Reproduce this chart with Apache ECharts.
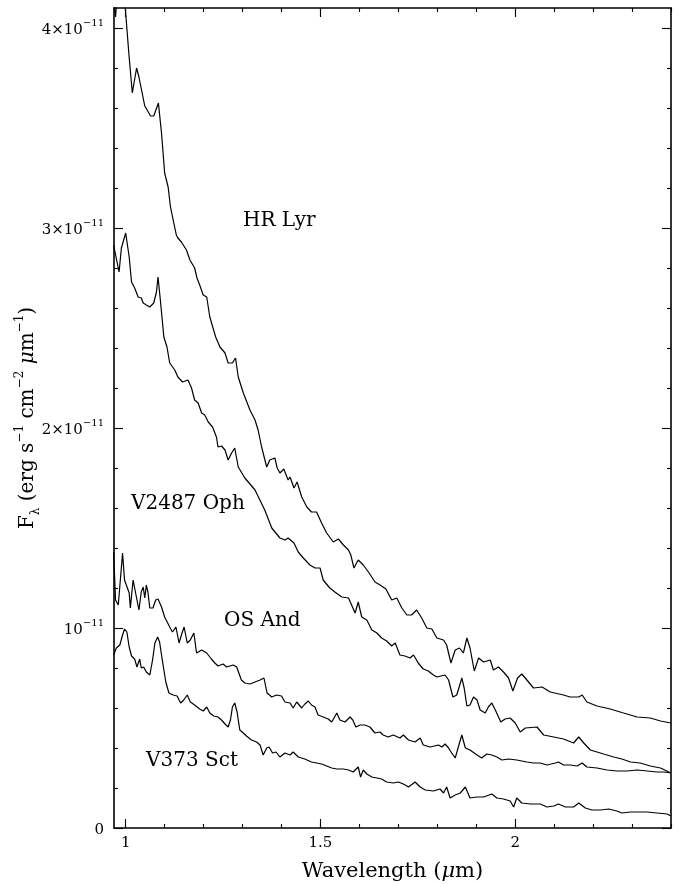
<!DOCTYPE html>
<html><head><meta charset="utf-8">
<script src="https://cdn.jsdelivr.net/npm/echarts@6/dist/echarts.min.js"></script>
<style>html,body{margin:0;padding:0;background:#fff}#c{width:690px;height:884px}</style>
</head><body><div id="c"></div>
<script>
// Wavelength (micron) and flux (units of 1e-11 erg s^-1 cm^-2 micron^-1)
const hrLyrLam = [0.970,0.974,0.979,0.990,0.999,1.008,1.017,1.028,1.034,1.039,1.049,1.053,1.064,1.072,1.084,1.092,1.100,1.109,1.115,1.120,1.130,1.134,1.143,1.147,1.156,1.165,1.177,1.183,1.190,1.199,1.208,1.216,1.231,1.242,1.255,1.263,1.274,1.282,1.289,1.302,1.319,1.332,1.340,1.349,1.362,1.370,1.383,1.389,1.396,1.406,1.417,1.422,1.432,1.440,1.452,1.465,1.477,1.490,1.503,1.516,1.533,1.546,1.559,1.572,1.578,1.586,1.597,1.610,1.625,1.640,1.653,1.668,1.683,1.696,1.709,1.722,1.734,1.747,1.760,1.773,1.786,1.799,1.816,1.824,1.835,1.846,1.857,1.867,1.876,1.884,1.895,1.906,1.919,1.936,1.944,1.957,1.970,1.983,1.994,2.006,2.017,2.030,2.047,2.069,2.090,2.124,2.141,2.163,2.172,2.184,2.210,2.244,2.278,2.313,2.347,2.373,2.400];
const hrLyrFlux = [4.12,4.055,4.19,4.24,4.10,3.875,3.675,3.80,3.755,3.755,3.61,3.615,3.56,3.56,3.625,3.475,3.275,3.205,3.105,3.10,2.965,2.95,2.93,2.925,2.89,2.84,2.80,2.75,2.715,2.665,2.655,2.555,2.455,2.405,2.375,2.325,2.325,2.35,2.255,2.175,2.09,2.04,1.99,1.905,1.805,1.84,1.85,1.80,1.775,1.795,1.74,1.755,1.70,1.73,1.655,1.605,1.58,1.58,1.525,1.475,1.43,1.445,1.415,1.39,1.365,1.30,1.34,1.315,1.275,1.23,1.215,1.195,1.14,1.15,1.10,1.065,1.065,1.09,1.05,1.00,0.995,0.95,0.94,0.915,0.825,0.89,0.90,0.875,0.95,0.90,0.785,0.85,0.83,0.84,0.79,0.805,0.78,0.75,0.685,0.75,0.77,0.74,0.70,0.705,0.68,0.665,0.655,0.655,0.665,0.63,0.61,0.595,0.575,0.555,0.55,0.535,0.525];

const v2487OphLam = [0.969,0.983,0.989,1.000,1.003,1.009,1.015,1.023,1.032,1.040,1.045,1.053,1.062,1.072,1.079,1.083,1.089,1.098,1.106,1.113,1.126,1.134,1.146,1.160,1.169,1.177,1.186,1.195,1.203,1.212,1.223,1.233,1.237,1.246,1.255,1.263,1.272,1.280,1.289,1.306,1.332,1.357,1.375,1.396,1.409,1.417,1.432,1.443,1.456,1.473,1.486,1.499,1.507,1.524,1.537,1.555,1.572,1.580,1.589,1.597,1.606,1.619,1.632,1.645,1.657,1.670,1.683,1.692,1.704,1.717,1.730,1.739,1.751,1.764,1.777,1.790,1.799,1.820,1.829,1.840,1.850,1.863,1.869,1.876,1.884,1.893,1.902,1.910,1.923,1.931,1.940,1.949,1.963,1.974,1.987,2.000,2.013,2.026,2.056,2.073,2.099,2.124,2.150,2.163,2.176,2.193,2.227,2.253,2.274,2.296,2.321,2.347,2.373,2.400];
const v2487OphFlux = [2.915,2.78,2.90,2.975,2.98,2.855,2.73,2.70,2.655,2.65,2.625,2.615,2.605,2.625,2.68,2.755,2.64,2.455,2.405,2.325,2.29,2.255,2.23,2.24,2.20,2.14,2.125,2.075,2.065,2.03,2.005,1.955,1.905,1.91,1.89,1.84,1.875,1.90,1.805,1.75,1.69,1.59,1.50,1.45,1.44,1.45,1.425,1.38,1.35,1.315,1.30,1.30,1.24,1.20,1.18,1.155,1.15,1.115,1.075,1.13,1.055,1.04,0.99,0.975,0.95,0.935,0.91,0.925,0.865,0.86,0.85,0.865,0.825,0.795,0.785,0.765,0.755,0.765,0.74,0.655,0.665,0.75,0.70,0.61,0.615,0.655,0.64,0.59,0.575,0.605,0.625,0.59,0.53,0.545,0.55,0.525,0.48,0.50,0.505,0.465,0.455,0.445,0.425,0.455,0.425,0.39,0.37,0.355,0.345,0.33,0.325,0.31,0.30,0.275];

const osAndLam = [0.969,0.974,0.981,0.992,0.997,1.002,1.009,1.012,1.019,1.023,1.028,1.034,1.040,1.045,1.049,1.053,1.057,1.062,1.070,1.077,1.083,1.092,1.100,1.113,1.120,1.129,1.137,1.143,1.150,1.158,1.166,1.175,1.182,1.195,1.208,1.220,1.229,1.237,1.250,1.259,1.276,1.285,1.297,1.306,1.319,1.332,1.345,1.355,1.363,1.375,1.387,1.400,1.409,1.422,1.430,1.439,1.452,1.460,1.469,1.477,1.486,1.494,1.507,1.520,1.529,1.542,1.550,1.563,1.576,1.583,1.591,1.602,1.614,1.627,1.640,1.653,1.661,1.674,1.687,1.704,1.713,1.726,1.743,1.756,1.764,1.782,1.803,1.812,1.820,1.829,1.837,1.846,1.854,1.863,1.872,1.884,1.902,1.914,1.927,1.940,1.953,1.966,1.983,2.004,2.030,2.047,2.064,2.082,2.103,2.111,2.124,2.141,2.159,2.172,2.184,2.210,2.236,2.261,2.287,2.313,2.339,2.364,2.382,2.400];
const osAndFlux = [1.38,1.14,1.115,1.375,1.24,1.25,1.175,1.10,1.24,1.23,1.15,1.09,1.18,1.205,1.15,1.215,1.18,1.10,1.10,1.14,1.145,1.105,1.055,1.005,0.98,1.005,0.925,0.965,1.005,0.925,0.94,0.975,0.875,0.89,0.875,0.845,0.825,0.81,0.82,0.805,0.815,0.805,0.74,0.725,0.72,0.73,0.74,0.75,0.675,0.655,0.665,0.66,0.63,0.625,0.60,0.63,0.60,0.62,0.635,0.615,0.605,0.565,0.555,0.545,0.53,0.575,0.54,0.53,0.555,0.54,0.505,0.515,0.515,0.505,0.475,0.48,0.465,0.455,0.465,0.45,0.465,0.44,0.43,0.45,0.415,0.405,0.415,0.405,0.42,0.40,0.375,0.35,0.405,0.465,0.40,0.39,0.365,0.35,0.37,0.365,0.355,0.34,0.345,0.34,0.33,0.325,0.325,0.315,0.325,0.33,0.315,0.315,0.31,0.325,0.305,0.30,0.29,0.285,0.285,0.29,0.285,0.28,0.28,0.275];

const v373SctLam = [0.969,0.976,0.985,0.992,0.997,1.003,1.009,1.015,1.023,1.029,1.036,1.040,1.046,1.053,1.062,1.069,1.075,1.082,1.087,1.094,1.103,1.111,1.122,1.132,1.141,1.149,1.158,1.166,1.177,1.190,1.199,1.208,1.216,1.226,1.237,1.246,1.255,1.263,1.269,1.274,1.280,1.286,1.293,1.302,1.310,1.323,1.336,1.345,1.353,1.362,1.368,1.377,1.386,1.396,1.409,1.422,1.430,1.443,1.460,1.477,1.490,1.503,1.516,1.529,1.542,1.559,1.572,1.584,1.597,1.603,1.610,1.619,1.632,1.645,1.657,1.670,1.687,1.700,1.713,1.726,1.743,1.756,1.769,1.790,1.807,1.816,1.824,1.833,1.846,1.859,1.872,1.884,1.902,1.919,1.940,1.953,1.970,1.987,1.996,2.004,2.017,2.039,2.064,2.082,2.099,2.111,2.129,2.150,2.163,2.180,2.197,2.219,2.240,2.261,2.274,2.296,2.313,2.339,2.364,2.390,2.400];
const v373SctFlux = [0.865,0.90,0.915,0.965,0.995,0.98,0.905,0.86,0.845,0.805,0.845,0.80,0.805,0.78,0.765,0.84,0.925,0.955,0.93,0.84,0.73,0.675,0.665,0.66,0.625,0.64,0.665,0.63,0.615,0.595,0.585,0.605,0.575,0.56,0.555,0.54,0.52,0.505,0.54,0.605,0.625,0.58,0.49,0.475,0.46,0.44,0.43,0.415,0.365,0.40,0.405,0.375,0.38,0.355,0.375,0.365,0.38,0.355,0.345,0.33,0.325,0.32,0.31,0.30,0.295,0.295,0.29,0.28,0.305,0.255,0.29,0.27,0.255,0.25,0.245,0.23,0.225,0.23,0.22,0.205,0.23,0.205,0.19,0.185,0.195,0.175,0.205,0.15,0.165,0.175,0.205,0.15,0.155,0.155,0.17,0.15,0.145,0.135,0.105,0.15,0.125,0.12,0.12,0.105,0.11,0.12,0.105,0.105,0.125,0.10,0.09,0.09,0.095,0.085,0.075,0.08,0.08,0.08,0.075,0.07,0.06];

const starNames = ['HR Lyr', 'V2487 Oph', 'OS And', 'V373 Sct'];
const xMajorTicks = [1, 1.5, 2];
const xMinorTicks = [1.0,1.1,1.2,1.3,1.4,1.5,1.6,1.7,1.8,1.9,2.0,2.1,2.2,2.3,2.4];
const yMajorTicks = [0, 1, 2, 3, 4];
const yMinorTicks = [0.2,0.4,0.6,0.8,1.2,1.4,1.6,1.8,2.2,2.4,2.6,2.8,3.2,3.4,3.6,3.8,4.0];
const xMin = 0.97, xMax = 2.4, yMin = 0, yMax = 4.1;

const FONT = 'DejaVu Serif';
const BLACK = '#000';
const pair = (a, b) => a.map((v, i) => [v, b[i]]);
const series = [
  pair(hrLyrLam, hrLyrFlux),
  pair(v2487OphLam, v2487OphFlux),
  pair(osAndLam, osAndFlux),
  pair(v373SctLam, v373SctFlux)
].map((d, i) => ({
  name: starNames[i], type: 'line', data: d, showSymbol: false, symbol: 'none',
  clip: true, animation: false, lineStyle: { color: BLACK, width: 1.2 }
}));

function xAxisDef(pos, major) {
  return {
    type: 'value', min: xMin, max: xMax, position: pos,
    axisLine: { show: major, onZero: false, lineStyle: { color: BLACK, width: 1.6 } },
    axisTick: { show: true, inside: true, length: major ? 9 : 4, customValues: major ? xMajorTicks : xMinorTicks, lineStyle: { color: BLACK, width: 1.1 } },
    axisLabel: { show: major && pos === 'bottom', customValues: xMajorTicks, color: BLACK, fontSize: 15, fontFamily: FONT, margin: 8 },
    splitLine: { show: false }
  };
}
function yAxisDef(pos, major) {
  return {
    type: 'value', min: yMin, max: yMax, position: pos,
    axisLine: { show: major, onZero: false, lineStyle: { color: BLACK, width: 1.6 } },
    axisTick: { show: true, inside: true, length: major ? 9 : 4, customValues: major ? yMajorTicks : yMinorTicks, lineStyle: { color: BLACK, width: 1.1 } },
    axisLabel: {
      show: major && pos === 'left', customValues: yMajorTicks, margin: 10,
      color: BLACK, fontSize: 15, fontFamily: FONT,
      formatter: v => v === 0 ? '{m|0}' : (v === 1 ? '{m|10}{s|−11}' : '{m|' + v + '×10}{s|−11}'),
      rich: {
        m: { fontSize: 15, fontFamily: FONT, color: BLACK, lineHeight: 20, verticalAlign: 'bottom' },
        s: { fontSize: 10, fontFamily: FONT, color: BLACK, lineHeight: 12, verticalAlign: 'top' }
      }
    },
    splitLine: { show: false }
  };
}

const xAxes = [xAxisDef('bottom', true), xAxisDef('bottom', false), xAxisDef('top', true), xAxisDef('top', false)];
xAxes[0].name = '{r|Wavelength (}{i|μ}{r|m)}';
xAxes[0].nameLocation = 'middle';
xAxes[0].nameGap = 33;
xAxes[0].nameMoveOverlap = false;
xAxes[0].nameTextStyle = { rich: {
  r: { fontSize: 21, fontFamily: FONT, color: BLACK },
  i: { fontSize: 21, fontFamily: FONT, color: BLACK, fontStyle: 'italic' }
} };
const yAxes = [yAxisDef('left', true), yAxisDef('left', false), yAxisDef('right', true), yAxisDef('right', false)];
yAxes[0].name = '{r|F}{sub|λ}{r| (erg s}{sup|−1}{r| cm}{sup|−2}{r| }{i|μ}{r|m}{sup|−1}{r|)}';
yAxes[0].nameLocation = 'middle';
yAxes[0].nameRotate = 90;
yAxes[0].nameGap = 72;
yAxes[0].nameMoveOverlap = false;
yAxes[0].nameTextStyle = { rich: {
  r: { fontSize: 20, fontFamily: FONT, color: BLACK, lineHeight: 28, verticalAlign: 'middle' },
  i: { fontSize: 20, fontFamily: FONT, color: BLACK, lineHeight: 28, fontStyle: 'italic', verticalAlign: 'middle' },
  sub: { fontSize: 12, fontFamily: FONT, color: BLACK, lineHeight: 14, verticalAlign: 'bottom' },
  sup: { fontSize: 12, fontFamily: FONT, color: BLACK, lineHeight: 14, verticalAlign: 'top' }
} };

const labelStyle = { fontSize: 20, fontFamily: FONT, fill: BLACK, textVerticalAlign: 'middle' };
const chart = echarts.init(document.getElementById('c'), null, { renderer: 'canvas' });
chart.setOption({
  animation: false,
  backgroundColor: '#fff',
  grid: { left: 114, right: 19, top: 8, bottom: 56, containLabel: false, outerBoundsMode: 'none' },
  xAxis: xAxes,
  yAxis: yAxes,
  series: series,
  graphic: [
    { type: 'text', left: 243, top: 211, style: Object.assign({ text: starNames[0] }, labelStyle) },
    { type: 'text', left: 131, top: 494, style: Object.assign({ text: starNames[1] }, labelStyle) },
    { type: 'text', left: 224, top: 611, style: Object.assign({ text: starNames[2] }, labelStyle) },
    { type: 'text', left: 146, top: 751, style: Object.assign({ text: starNames[3] }, labelStyle) }
  ]
});
</script></body></html>
